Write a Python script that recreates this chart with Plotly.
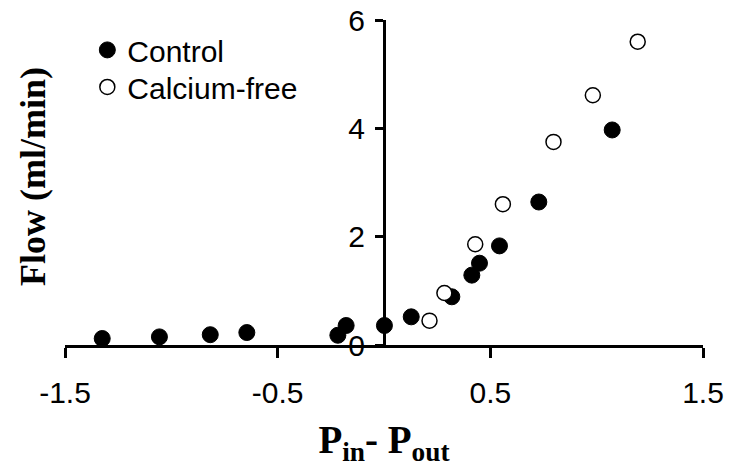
import plotly.graph_objects as go

# Control (filled circles)
control_x = [-1.325, -1.056, -0.817, -0.645, -0.217, -0.178, 0.002, 0.128, 0.319, 0.413, 0.449, 0.543, 0.728, 1.073]
control_y = [0.12, 0.15, 0.19, 0.23, 0.18, 0.36, 0.36, 0.52, 0.89, 1.29, 1.51, 1.83, 2.64, 3.97]

# Calcium-free (open circles)
cafree_x = [0.214, 0.284, 0.429, 0.559, 0.797, 0.982, 1.193]
cafree_y = [0.45, 0.96, 1.86, 2.60, 3.75, 4.61, 5.60]

x_ticks = [-1.5, -0.5, 0.5, 1.5]
y_ticks = [0, 2, 4, 6]

fig = go.Figure()
fig.add_trace(go.Scatter(
    x=control_x, y=control_y, mode="markers", name="Control", legend="legend",
    marker=dict(symbol="circle", size=16, color="black", line=dict(color="black", width=1)),
    cliponaxis=False,
))
fig.add_trace(go.Scatter(
    x=cafree_x, y=cafree_y, mode="markers", name="Calcium-free", legend="legend2",
    marker=dict(symbol="circle", size=15, color="white", line=dict(color="black", width=1.5)),
    cliponaxis=False,
))

legend_font = dict(family="Liberation Sans, Arial", size=30, color="black")

fig.update_layout(
    width=730, height=474,
    margin=dict(l=65, r=27, t=20, b=129, autoexpand=False),
    paper_bgcolor="white", plot_bgcolor="white",
    font=dict(family="Liberation Sans, Arial", color="black", size=29),
    showlegend=True,
    legend=dict(x=0.035, y=0.908, xanchor="left", yanchor="middle",
                font=legend_font, bgcolor="rgba(0,0,0,0)", itemsizing="trace"),
    legend2=dict(x=0.035, y=0.794, xanchor="left", yanchor="middle",
                 font=legend_font, bgcolor="rgba(0,0,0,0)", itemsizing="trace"),
    xaxis=dict(
        range=[-1.5, 1.5], tickvals=x_ticks, ticktext=[str(v) for v in x_ticks],
        automargin=False,
        showgrid=False, zeroline=False, showline=True, linecolor="black", linewidth=3,
        ticks="outside", ticklen=10, tickwidth=3, tickcolor="black",
        ticklabelstandoff=9,
        tickfont=dict(size=30, family="Liberation Sans, Arial"),
        title=dict(text="<b>P<sub>in</sub>- P<sub>out</sub></b>",
                   font=dict(family="Liberation Serif, Times New Roman", size=39), standoff=18),
    ),
    yaxis=dict(
        range=[0, 6], tickvals=y_ticks, ticktext=[str(v) for v in y_ticks],
        anchor="free", position=0.5, automargin=False,
        showgrid=False, zeroline=False, showline=True, linecolor="black", linewidth=3,
        ticks="outside", ticklen=8, tickwidth=3, tickcolor="black",
        ticklabelstandoff=4,
        tickfont=dict(size=30, family="Liberation Sans, Arial"),
    ),
    annotations=[dict(
        text="<b>Flow (ml/min)</b>", textangle=-90, xref="paper", yref="paper",
        x=-0.05, y=0.517, xanchor="center", yanchor="middle", showarrow=False,
        font=dict(family="Liberation Serif, Times New Roman", size=36, color="black"),
    )],
)

fig.write_html("out.html")
